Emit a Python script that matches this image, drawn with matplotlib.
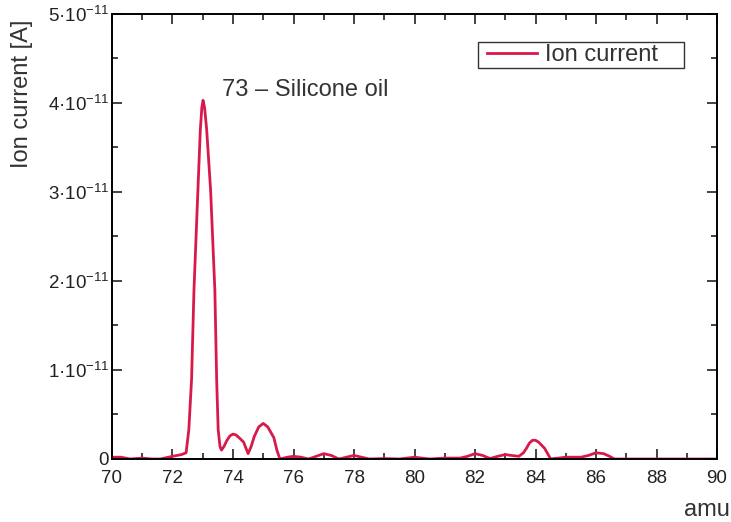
"""
Ion current vs mass (amu) - silicone oil peak
"""

import matplotlib
matplotlib.use('Agg')
import matplotlib.pyplot as plt
from matplotlib.patches import Rectangle
from matplotlib.ticker import MultipleLocator, FixedLocator

plt.rcParams['font.family'] = ['Liberation Sans', 'DejaVu Sans']
plt.rcParams['mathtext.fontset'] = 'custom'
plt.rcParams['mathtext.rm'] = 'Liberation Sans'

# mass values (amu) and ion current (units of 1e-11 A)
amu = [70.0, 70.3, 70.6, 71.0, 71.3, 71.6, 72.0, 72.3, 72.45,
       72.54, 72.63, 72.71, 72.84, 72.92, 72.97, 73.01, 73.06, 73.13,
       73.26, 73.40, 73.46, 73.51, 73.57, 73.62, 73.7, 73.8, 73.9,
       74.0, 74.1, 74.2, 74.35, 74.5, 74.6, 74.7, 74.85, 75.0, 75.15,
       75.35, 75.45, 75.55,
       75.8, 76.0, 76.25, 76.5, 76.75, 77.0, 77.25, 77.5, 77.75,
       78.0, 78.25, 78.5, 79.0, 79.5, 80.0, 80.5, 81.0, 81.5,
       81.75, 82.0, 82.25, 82.5, 82.75, 83.0, 83.2, 83.45, 83.6, 83.7,
       83.8, 83.9, 84.0, 84.1, 84.3, 84.5, 85.0, 85.5, 85.75, 86.0, 86.25,
       86.45, 86.6, 87.0, 88.0, 89.0, 90.0]
current = [0.02, 0.02, 0.0, 0.01, 0.0, 0.0, 0.03, 0.05, 0.07,
           0.33, 0.89, 1.90, 3.02, 3.70, 3.95, 4.03, 3.95, 3.70,
           3.02, 1.90, 0.89, 0.33, 0.14, 0.10, 0.14, 0.21, 0.26,
           0.28, 0.27, 0.24, 0.19, 0.06, 0.14, 0.25, 0.36, 0.40, 0.36,
           0.24, 0.10, 0.0,
           0.02, 0.03, 0.02, 0.0, 0.03, 0.06, 0.04, 0.0, 0.02,
           0.04, 0.02, 0.0, 0.005, 0.0, 0.02, 0.0, 0.01, 0.01,
           0.03, 0.06, 0.04, 0.005, 0.03, 0.05, 0.04, 0.03, 0.07, 0.12,
           0.18, 0.21, 0.21, 0.19, 0.12, 0.0, 0.02, 0.02, 0.04, 0.07, 0.06,
           0.03, 0.0, 0.0, 0.0, 0.0, 0.0]

ytick_vals = [0, 1, 2, 3, 4, 5]
ytick_labels = ['0'] + [r'$\mathregular{%d·10^{-11}}$' % v for v in ytick_vals[1:]]

fig = plt.figure(figsize=(7.31, 5.22), dpi=100)
ax = fig.add_axes([0.1532, 0.1207, 0.8277, 0.8525])

ax.plot(amu, current, color='#d81a4a', linewidth=2.0, label='Ion current',
        solid_joinstyle='round')

ax.set_xlim(70, 90)
ax.set_ylim(0, 5)
ax.xaxis.set_major_locator(MultipleLocator(2))
ax.xaxis.set_minor_locator(MultipleLocator(1))
ax.yaxis.set_major_locator(FixedLocator(ytick_vals))
ax.yaxis.set_minor_locator(MultipleLocator(0.5))
ax.set_yticklabels(ytick_labels)

ax.tick_params(which='both', direction='in', top=True, right=True,
               labelsize=13.5, colors='#222222', width=1.2)
ax.tick_params(which='major', length=7)
ax.tick_params(axis='x', pad=8)
ax.tick_params(axis='y', pad=2)
ax.tick_params(which='minor', length=4)
for s in ax.spines.values():
    s.set_linewidth(1.4)

fig.text(0.030, 0.962, 'Ion current [A]', rotation=90, fontsize=17,
         color='#333333', ha='center', va='top')
fig.text(0.999, 0.023, 'amu', fontsize=17, color='#333333',
         ha='right', va='center')
ax.text(73.65, 4.15, '73 – Silicone oil', fontsize=17, color='#333333',
        va='center')

# legend: frame drawn separately to get the wide right margin of the original
ax.add_patch(Rectangle((0.605, 0.8787), 0.3405, 0.0583, transform=ax.transAxes,
                       fill=False, edgecolor='#333333', linewidth=1.0, zorder=4))
leg = ax.legend(loc='center left', bbox_to_anchor=(0.62, 0.908),
                fontsize=17, frameon=False, handlelength=2.12,
                borderpad=0.0, handletextpad=0.34, borderaxespad=0.0)
for t in leg.get_texts():
    t.set_color('#333333')

plt.savefig('out.png', dpi=100)
